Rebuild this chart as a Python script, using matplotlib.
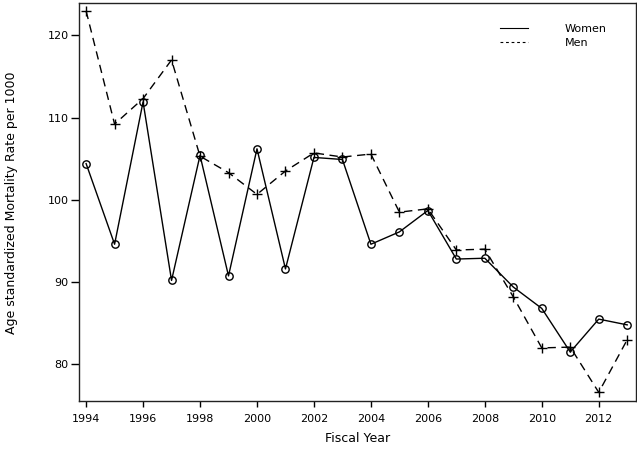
import matplotlib
matplotlib.use("Agg")
import matplotlib.pyplot as plt
from matplotlib.lines import Line2D

years = list(range(1994, 2014))
women = [104.4, 94.6, 111.9, 90.2, 105.4, 90.75, 106.2, 91.6, 105.15, 104.9,
         94.6, 96.1, 98.7, 92.8, 92.9, 89.4, 86.8, 81.5, 85.5, 84.8]
men = [122.95, 109.2, 112.3, 117.0, 105.3, 103.3, 100.66, 103.5, 105.7, 105.2,
       105.56, 98.5, 98.9, 93.9, 94.0, 88.2, 82.0, 82.1, 76.6, 83.0]
xticks = list(range(1994, 2014, 2))
yticks = [80, 90, 100, 110, 120]

plt.rcParams['font.family'] = ['DejaVu Sans']
fig = plt.figure(figsize=(6.37, 4.5), dpi=100)
ax = fig.add_axes([0.124, 0.108, 0.8745, 0.885])

ax.plot(years, women, color='black', lw=1.0, marker='o', ms=5.3,
        mfc='none', mec='black', mew=1.0)
ax.plot(years, men, color='black', lw=1.0, marker='+', ms=6.5, mew=1.0,
        dashes=(6, 4))

ax.set_xlim(1993.75, 2013.31)
ax.set_ylim(75.5, 123.9)
ax.set_xticks(xticks)
ax.set_yticks(yticks)
ax.tick_params(direction='out', width=1, labelsize=8, colors='black')
ax.tick_params(axis='x', length=4, pad=5)
ax.tick_params(axis='y', length=5.5, pad=2)
for s in ax.spines.values():
    s.set_linewidth(1.0)
    s.set_color('#222222')

ax.set_xlabel('Fiscal Year', fontsize=9, labelpad=6)
ax.set_ylabel('Age standardized Mortality Rate per 1000', fontsize=9, labelpad=21)

handles = [Line2D([0], [0], color='black', lw=0.8),
           Line2D([0], [0], color='black', lw=0.8, dashes=(2.5, 2.5))]
ax.legend(handles, ['Women', 'Men'], loc='upper left', frameon=False,
          fontsize=8, handlelength=2.5, handletextpad=3.3, labelspacing=0.35,
          borderpad=0, borderaxespad=0,
          bbox_to_anchor=(500 / 637, 1 - 24 / 450), bbox_transform=fig.transFigure)

fig.savefig('out.png', dpi=100)
